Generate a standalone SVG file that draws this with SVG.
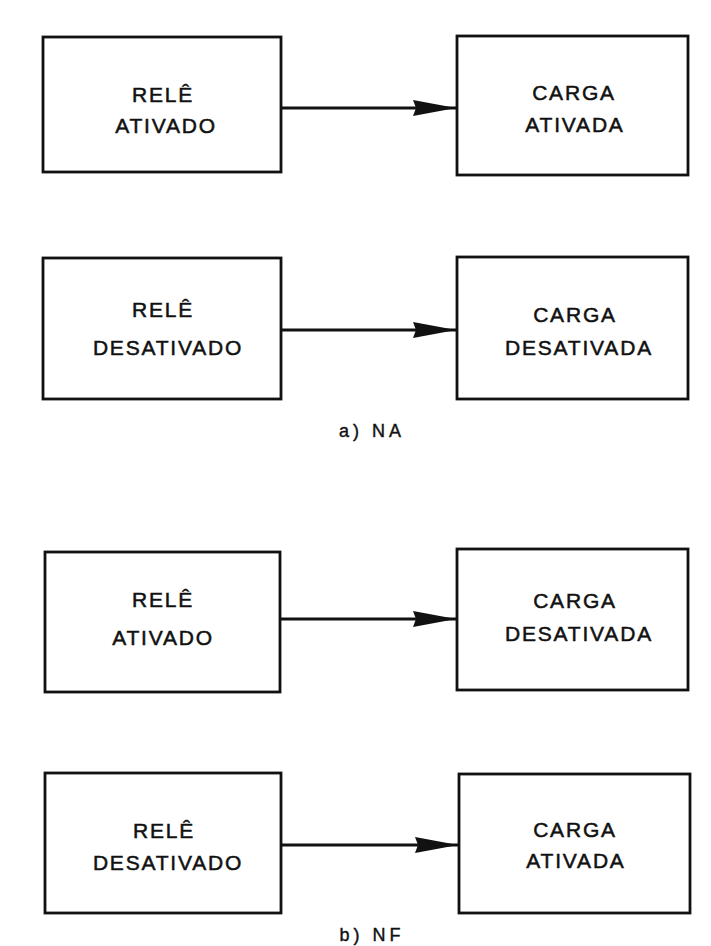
<svg xmlns="http://www.w3.org/2000/svg" width="711" height="946" viewBox="0 0 711 946">
<style>
.box{fill:none;stroke:#111;stroke-width:2.8}
.lbl{font-family:"Liberation Sans","DejaVu Sans",sans-serif;font-size:21px;letter-spacing:1.8px;fill:#111;stroke:#111;stroke-width:0.5;text-anchor:middle}
.cap{font-family:"Liberation Sans","DejaVu Sans",sans-serif;font-size:18px;letter-spacing:4px;fill:#111;stroke:#111;stroke-width:0.4;text-anchor:middle}
.conn{stroke:#111;stroke-width:2.8;fill:none}
</style>
<defs>
<marker id="arr" markerUnits="userSpaceOnUse" markerWidth="44" markerHeight="18" refX="43" refY="8" orient="auto">
<polygon points="0,0 43,8 0,16 3,8" fill="#111"/>
</marker>
</defs>
<rect width="711" height="946" fill="#fff"/>
<g id="rele-ativado-a">
<rect class="box" x="43" y="37" width="238" height="135"/>
<text class="lbl" x="163" y="102">RELÊ</text>
<text class="lbl" x="166" y="133">ATIVADO</text>
</g>
<g id="carga-ativada-a">
<rect class="box" x="457" y="36" width="231" height="139"/>
<text class="lbl" x="574" y="100">CARGA</text>
<text class="lbl" x="575" y="132">ATIVADA</text>
</g>
<g id="rele-desativado-a">
<rect class="box" x="43" y="258" width="238" height="141"/>
<text class="lbl" x="163" y="317">RELÊ</text>
<text class="lbl" x="168" y="355">DESATIVADO</text>
</g>
<g id="carga-desativada-a">
<rect class="box" x="457" y="257" width="231" height="142"/>
<text class="lbl" x="575" y="322">CARGA</text>
<text class="lbl" x="579" y="355">DESATIVADA</text>
</g>
<g id="rele-ativado-b">
<rect class="box" x="45" y="552" width="235" height="140"/>
<text class="lbl" x="163" y="607">RELÊ</text>
<text class="lbl" x="163" y="645">ATIVADO</text>
</g>
<g id="carga-desativada-b">
<rect class="box" x="457" y="549" width="231" height="141"/>
<text class="lbl" x="575" y="608">CARGA</text>
<text class="lbl" x="579" y="641">DESATIVADA</text>
</g>
<g id="rele-desativado-b">
<rect class="box" x="45" y="773" width="236" height="140"/>
<text class="lbl" x="164" y="838">RELÊ</text>
<text class="lbl" x="168" y="870">DESATIVADO</text>
</g>
<g id="carga-ativada-b">
<rect class="box" x="459" y="774" width="231" height="139"/>
<text class="lbl" x="575" y="837">CARGA</text>
<text class="lbl" x="576" y="868">ATIVADA</text>
</g>
<g id="connectors">
<line class="conn" x1="281" y1="108" x2="456" y2="108" marker-end="url(#arr)"/>
<line class="conn" x1="281" y1="330" x2="456" y2="330" marker-end="url(#arr)"/>
<line class="conn" x1="280" y1="619" x2="456" y2="619" marker-end="url(#arr)"/>
<line class="conn" x1="281" y1="845" x2="458" y2="845" marker-end="url(#arr)"/>
</g>
<g id="captions">
<text class="cap" x="372" y="437">a) NA</text>
<text class="cap" x="372" y="941">b) NF</text>
</g>
</svg>
